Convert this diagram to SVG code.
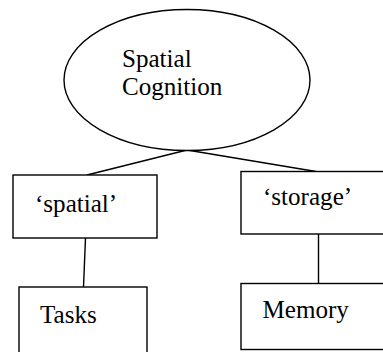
<svg xmlns="http://www.w3.org/2000/svg" width="383" height="352" viewBox="0 0 383 352">
  <style>
    .shape { fill: #ffffff; stroke: #000000; stroke-width: 1.4; }
    .link { fill: none; stroke: #000000; stroke-width: 1.4; }
    .label { font-family: "Liberation Serif", serif; font-size: 22px; fill: #000000; }
  </style>
  <rect width="383" height="352" fill="#ffffff"/>
  <g id="connectors">
    <line class="link" x1="187" y1="150" x2="87" y2="175"/>
    <line class="link" x1="187" y1="150" x2="316" y2="171.5"/>
    <line class="link" x1="85.5" y1="238" x2="83.5" y2="287"/>
    <line class="link" x1="318.5" y1="234" x2="318.5" y2="283.5"/>
  </g>
  <g id="spatial-cognition">
    <ellipse class="shape" cx="187" cy="80" rx="123" ry="70.5"/>
    <text class="label" transform="translate(122 66.5) scale(1.14)">Spatial</text>
    <text class="label" transform="translate(122 95) scale(1.14)">Cognition</text>
  </g>
  <g id="spatial">
    <rect class="shape" x="13" y="175" width="144" height="63"/>
    <text class="label" transform="translate(35 211.5) scale(1.14)">‘spatial’</text>
  </g>
  <g id="storage">
    <rect class="shape" x="241" y="171.5" width="160" height="62.5"/>
    <text class="label" transform="translate(263 205) scale(1.14)">‘storage’</text>
  </g>
  <g id="tasks">
    <rect class="shape" x="19" y="287" width="128" height="80"/>
    <text class="label" transform="translate(40 322.5) scale(1.14)">Tasks</text>
  </g>
  <g id="memory">
    <rect class="shape" x="241" y="283.5" width="160" height="66"/>
    <text class="label" transform="translate(262.5 317.5) scale(1.14)">Memory</text>
  </g>
</svg>
